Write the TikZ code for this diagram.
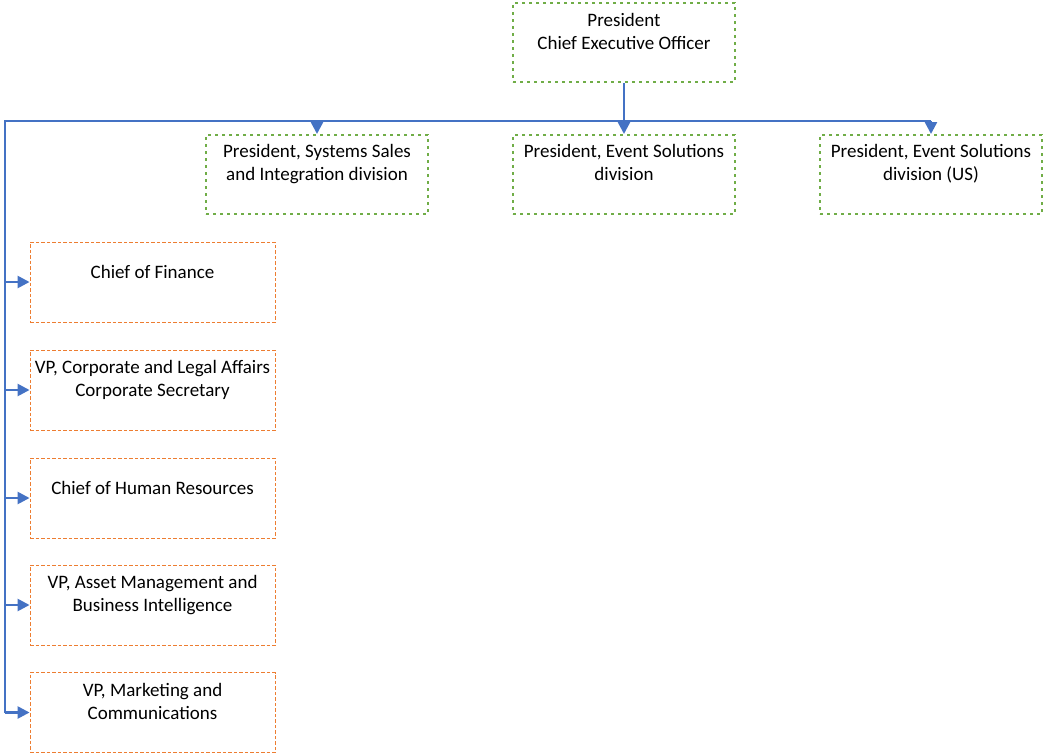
\documentclass[tikz,border=0pt]{standalone}
\usepackage{fontspec}
\setmainfont{Carlito}
\usetikzlibrary{arrows.meta,positioning}
\definecolor{lblue}{HTML}{4472C4}
\definecolor{hgreen}{HTML}{70AD47}
\definecolor{sorange}{HTML}{ED7D31}
\tikzset{
	head/.style={draw=hgreen,line width=2pt,dash pattern=on 3pt off 4pt,minimum width=222pt,minimum height=79pt,inner sep=0pt},
	staff/.style={draw=sorange,line width=0.9pt,dash pattern=on 3.5pt off 2pt,minimum width=245pt,minimum height=80pt,inner sep=0pt},
	title/.style={align=center,font=\fontsize{19}{23}\selectfont,inner sep=0pt,
		execute at begin node=\strut,execute at end node=\strut},
	link/.style={draw=lblue,line width=2.5pt},
	-tri/.style={-{Triangle[length=12pt,width=12pt]}}
}

\begin{document}
\begin{tikzpicture}[x=1pt,y=-1pt]
            \useasboundingbox (0,0) rectangle (1045,753);
            % heads
            \node[head] (ceo) at (624,42.5) {};
            \node[title] (ceot) at (624,35) {President\\Chief Executive Officer};
            \node[head] (sales) at (317,174.5) {};
            \node[title] (salest) at (317,166) {President, Systems Sales\\and Integration division};
            \node[head] (event) at (624,174.5) {};
            \node[title] (eventt) at (624,166) {President, Event Solutions\\division};
            \node[head] (us) at (931,174.5) {};
            \node[title] (ust) at (931,166) {President, Event Solutions\\division (US)};
            % staff
            \node[staff] (fin) at (152.5,282) {};
            \node[title] (fint) at (152.5,274) {Chief of Finance};
            \node[staff] (legal) at (152.5,390) {};
            \node[title] (legalt) at (152.5,382) {VP, Corporate and Legal Affairs\\Corporate Secretary};
            \node[staff] (hr) at (152.5,498) {};
            \node[title] (hrt) at (152.5,490) {Chief of Human Resources};
            \node[staff] (asset) at (152.5,605) {};
            \node[title] (assett) at (152.5,597) {VP, Asset Management and\\Business Intelligence};
            \node[staff] (mkt) at (152.5,712.5) {};
            \node[title] (mktt) at (152.5,704.5) {VP, Marketing and\\Communications};
            % connectors
            \node[coordinate] (split) at (624,121) {};
            \node[coordinate] (corner) at (5,121) {};
            \draw[link] (ceo) -- (split);
            \draw[link] (corner |- mkt) -- (corner) -- (corner -| us);
            \draw[link,-tri] (corner -| sales) -- (sales);
            \draw[link,-tri] (corner -| event) -- (event);
            \draw[link,-tri] (corner -| us) -- (us);
            \draw[link,-tri] (corner |- fin) -- (fin);
            \draw[link,-tri] (corner |- legal) -- (legal);
            \draw[link,-tri] (corner |- hr) -- (hr);
            \draw[link,-tri] (corner |- asset) -- (asset);
            \draw[link,-tri] (corner |- mkt) -- (mkt);
        \end{tikzpicture}
\end{document}
